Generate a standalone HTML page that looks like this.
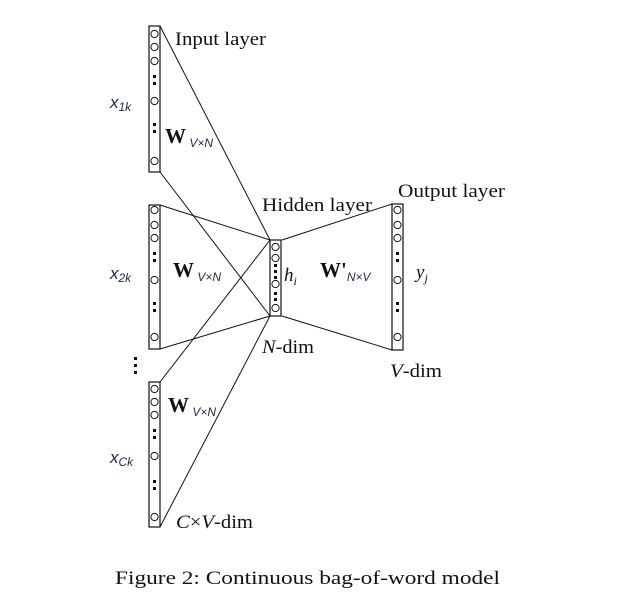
<!DOCTYPE html>
<html><head><meta charset="utf-8"><style>
html,body{margin:0;padding:0;background:#fff;}
svg{display:block;}
text{font-family:"Liberation Serif",serif;fill:#111;}
.v{font-family:"Liberation Sans",sans-serif;font-style:italic;fill:#1e2a4a;}
</style></head><body>
<svg width="621" height="604" viewBox="0 0 621 604">
<g stroke="#111" stroke-width="1" fill="none">
<line x1="160" y1="26" x2="270" y2="240"/>
<line x1="160" y1="172" x2="270" y2="316"/>
<line x1="160" y1="205" x2="270" y2="240"/>
<line x1="160" y1="349" x2="270" y2="316"/>
<line x1="160" y1="382" x2="270" y2="240"/>
<line x1="160" y1="527" x2="270" y2="316"/>
<line x1="282" y1="240" x2="392" y2="204"/>
<line x1="282" y1="316" x2="392" y2="350"/>
</g>
<g id="layers"></g>
<text x="175" y="45" font-size="19" textLength="91" lengthAdjust="spacingAndGlyphs">Input layer</text>
<text x="262" y="211" font-size="19" textLength="110" lengthAdjust="spacingAndGlyphs">Hidden layer</text>
<text x="398" y="197" font-size="19" textLength="107" lengthAdjust="spacingAndGlyphs">Output layer</text>
<text x="110" y="108" class="v" font-size="17">x<tspan font-size="12" dy="3">1k</tspan></text>
<text x="110" y="279" class="v" font-size="17">x<tspan font-size="12" dy="3">2k</tspan></text>
<text x="110" y="463" class="v" font-size="17">x<tspan font-size="12" dy="3">Ck</tspan></text>
<text x="165" y="143" font-size="21" font-weight="bold">W<tspan class="v" font-size="12" dy="4" font-weight="normal"> V×N</tspan></text>
<text x="173" y="277" font-size="21" font-weight="bold">W<tspan class="v" font-size="12" dy="4" font-weight="normal"> V×N</tspan></text>
<text x="168" y="412" font-size="21" font-weight="bold">W<tspan class="v" font-size="12" dy="4" font-weight="normal"> V×N</tspan></text>
<text x="320" y="277" font-size="21" font-weight="bold">W'<tspan class="v" font-size="12" dy="4" font-weight="normal">N×V</tspan></text>
<text x="284" y="281" font-size="19" font-style="italic">h<tspan font-size="12" dy="4">i</tspan></text>
<text x="416" y="278" font-size="19" font-style="italic">y<tspan font-size="12" dy="4">j</tspan></text>
<text x="262" y="353" font-size="19" textLength="52" lengthAdjust="spacingAndGlyphs"><tspan font-style="italic">N</tspan>-dim</text>
<text x="390" y="377" font-size="19" textLength="52" lengthAdjust="spacingAndGlyphs"><tspan font-style="italic">V</tspan>-dim</text>
<text x="176" y="528" font-size="19" textLength="77" lengthAdjust="spacingAndGlyphs"><tspan font-style="italic">C</tspan>×<tspan font-style="italic">V</tspan>-dim</text>
<g fill="#111">
<rect x="134" y="357" width="3" height="3"/><rect x="134" y="364" width="3" height="3"/><rect x="134" y="371" width="3" height="3"/>
</g>
<text x="115" y="584" font-size="19" textLength="385" lengthAdjust="spacingAndGlyphs">Figure 2: Continuous bag-of-word model</text>
</svg>
<script>
const NS="http://www.w3.org/2000/svg";
const g=document.getElementById('layers');
function mk(t,a){const e=document.createElementNS(NS,t);for(const k in a)e.setAttribute(k,a[k]);return e;}
function layer(name,x,y0,y1,circles,dots){
  const grp=mk('g',{});
  
  
  const r=mk('rect',{x:x,y:y0,width:11,height:y1-y0,fill:'none',stroke:'#111','stroke-width':1.2});
  
  
  grp.appendChild(r);
  circles.forEach(cy=>{const c=mk('circle',{cx:x+5.5,cy:cy,r:3.6,fill:'none',stroke:'#111','stroke-width':1});
    
    
    grp.appendChild(c);});
  dots.forEach(dy=>{const d=mk('rect',{x:x+4,y:dy,width:3,height:3,fill:'#111'});
    
    
    grp.appendChild(d);});
  g.appendChild(grp);
}
layer('input-layer-1',149,26,172,[34,47,61,101,161],[75,82,123,130]);
layer('input-layer-2',149,205,349,[210,225,238,280,337],[252,259,302,309]);
layer('input-layer-c',149,382,527,[389,402,415,456,517],[429,436,480,487]);
layer('hidden-layer',270,240,316,[247,258,284,308],[264,270,276,292,298]);
layer('output-layer',392,204,350,[210,225,238,280,337],[252,259,302,309]);
</script>
</body></html>
